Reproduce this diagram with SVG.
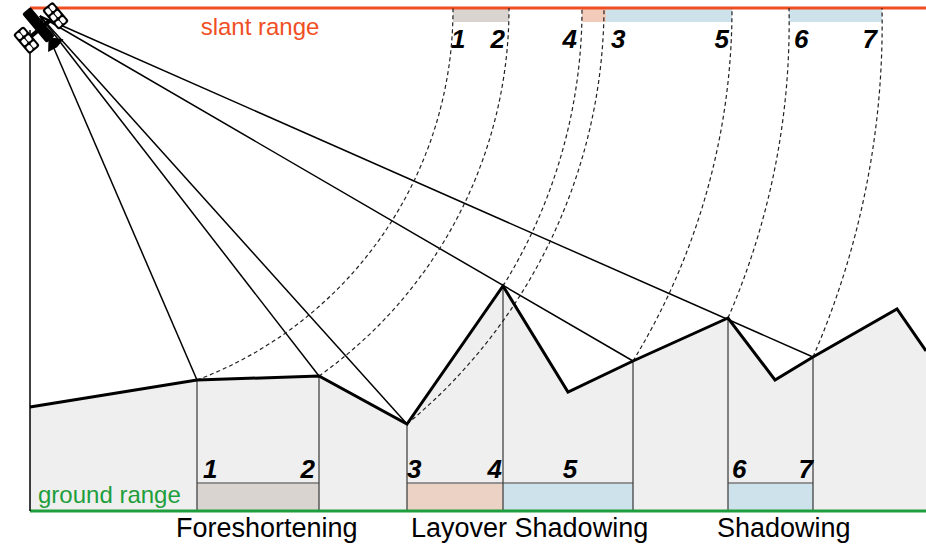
<svg xmlns="http://www.w3.org/2000/svg" width="926" height="546" viewBox="0 0 926 546">
  <style>
    .terrain { fill: none; stroke: #000; stroke-width: 3; stroke-linejoin: miter; }
    .ray { fill: none; stroke: #000; stroke-width: 1.5; }
    .arc { fill: none; stroke: #222; stroke-width: 1.2; stroke-dasharray: 4 3; }
    .drop { stroke: #444; stroke-width: 1.3; }
    .num { font-family: "Liberation Sans", Arial, sans-serif; font-size: 26px; font-weight: bold; font-style: italic; fill: #000; }
    .label { font-family: "Liberation Sans", Arial, sans-serif; font-size: 27px; fill: #000; }
    .gray { fill: #d9d4d0; }
    .salmon { fill: #ecd2c4; }
    .blue { fill: #cde2ea; }
  </style>

  <rect width="926" height="546" fill="#fff"/>

  <!-- ground body -->
  <polygon id="ground" points="30,407 197,380 319,376 407,424 503,286 568,392 633,361 728,318 775,380 813,357 897,309 926,351 926,511 30,511" fill="#efefef"/>

  <!-- ground-range bars -->
  <g id="ground-bars">
    <rect class="gray" x="197" y="483" width="122" height="28"/>
    <rect class="salmon" x="407" y="483" width="96" height="28"/>
    <rect class="blue" x="503" y="483" width="130" height="28"/>
    <rect class="blue" x="728" y="483" width="85" height="28"/>
    <g stroke="#777" stroke-width="1.5">
      <line x1="197" y1="483" x2="319" y2="483"/>
      <line x1="407" y1="483" x2="633" y2="483"/>
      <line x1="728" y1="483" x2="813" y2="483"/>
    </g>
  </g>

  <!-- slant-range bars -->
  <g id="slant-bars">
    <rect class="gray" x="453" y="8" width="56" height="14"/>
    <rect fill="#f2cbbb" x="582" y="8" width="24" height="14"/>
    <rect class="blue" x="606" y="8" width="126" height="14"/>
    <rect class="blue" x="789" y="8" width="93" height="14"/>
  </g>

  <!-- verticals from terrain points down to ground range -->
  <g id="drops">
    <line class="drop" x1="197" y1="380" x2="197" y2="511"/>
    <line class="drop" x1="319" y1="376" x2="319" y2="511"/>
    <line class="drop" x1="407" y1="424" x2="407" y2="511"/>
    <line class="drop" x1="503" y1="286" x2="503" y2="511"/>
    <line class="drop" x1="633" y1="361" x2="633" y2="511"/>
    <line class="drop" x1="728" y1="318" x2="728" y2="511"/>
    <line class="drop" x1="813" y1="357" x2="813" y2="511"/>
  </g>

  <!-- range axes -->
  <line id="slant-axis" x1="30" y1="8" x2="926" y2="8" stroke="#f04e23" stroke-width="3"/>
  <line id="ground-axis" x1="30" y1="511" x2="926" y2="511" stroke="#1e9e3c" stroke-width="3"/>

  <!-- connectors: radar rays and equal-range arcs -->
  <g id="connectors">
    <line class="ray" x1="30" y1="30" x2="30" y2="511"/>
    <line class="ray" x1="40" y1="16" x2="197" y2="380"/>
    <line class="ray" x1="40" y1="16" x2="319" y2="376"/>
    <line class="ray" x1="40" y1="16" x2="407" y2="424"/>
    <line class="ray" x1="40" y1="16" x2="633" y2="361"/>
    <line class="ray" x1="40" y1="16" x2="813" y2="357"/>

    <path class="arc" d="M197,380 A396,396 0 0 0 453,8"/>
    <path class="arc" d="M319,376 A451,451 0 0 0 509,8"/>
    <path class="arc" d="M407,424 A543,543 0 0 0 604,8"/>
    <path class="arc" d="M503,286 A526,526 0 0 0 582,8"/>
    <path class="arc" d="M633,361 A676,676 0 0 0 732,8"/>
    <path class="arc" d="M728,318 A740,740 0 0 0 789,8"/>
    <path class="arc" d="M813,357 A834,834 0 0 0 882,8"/>
  </g>

  <!-- terrain profile -->
  <polyline id="terrain" class="terrain" points="30,407 197,380 319,376 407,424 503,286 568,392 633,361 728,318 775,380 813,357 897,309 926,351"/>

  <!-- satellite -->
  <g id="satellite" transform="translate(41,28) rotate(50)">
    <rect x="-23" y="-5.5" width="38" height="11" rx="2" fill="#000"/>
    <path d="M14,-2 L23,-10 L25,0 L23,10 L14,2 Z" fill="#000"/>
    <rect x="-2" y="-13" width="4" height="26" fill="#000"/>
    <g fill="#000">
      <rect x="-13" y="-26" width="26" height="14" rx="2.5"/>
      <rect x="-13" y="12" width="26" height="14" rx="2.5"/>
    </g>
    <g fill="#fff">
      <rect x="-11" y="-24" width="6" height="4.5" rx="1.5"/>
      <rect x="-3" y="-24" width="6" height="4.5" rx="1.5"/>
      <rect x="5" y="-24" width="6" height="4.5" rx="1.5"/>
      <rect x="-11" y="-18.5" width="6" height="4.5" rx="1.5"/>
      <rect x="-3" y="-18.5" width="6" height="4.5" rx="1.5"/>
      <rect x="5" y="-18.5" width="6" height="4.5" rx="1.5"/>
      <rect x="-11" y="14" width="6" height="4.5" rx="1.5"/>
      <rect x="-3" y="14" width="6" height="4.5" rx="1.5"/>
      <rect x="5" y="14" width="6" height="4.5" rx="1.5"/>
      <rect x="-11" y="19.5" width="6" height="4.5" rx="1.5"/>
      <rect x="-3" y="19.5" width="6" height="4.5" rx="1.5"/>
      <rect x="5" y="19.5" width="6" height="4.5" rx="1.5"/>
    </g>
  </g>

  <!-- axis labels -->
  <text x="260" y="35" text-anchor="middle" fill="#f04e23" font-family="Liberation Sans, Arial, sans-serif" font-size="24">slant range</text>
  <text x="38" y="503" fill="#1e9e3c" font-family="Liberation Sans, Arial, sans-serif" font-size="24">ground range</text>

  <!-- slant-range point numbers -->
  <g id="slant-numbers">
    <text class="num" x="451" y="48">1</text>
    <text class="num" x="505" y="48" text-anchor="end">2</text>
    <text class="num" x="577" y="48" text-anchor="end">4</text>
    <text class="num" x="611" y="48">3</text>
    <text class="num" x="729" y="48" text-anchor="end">5</text>
    <text class="num" x="794" y="48">6</text>
    <text class="num" x="877" y="48" text-anchor="end">7</text>
  </g>

  <!-- ground-range point numbers -->
  <g id="ground-numbers">
    <text class="num" x="203" y="478">1</text>
    <text class="num" x="315" y="478" text-anchor="end">2</text>
    <text class="num" x="407" y="478">3</text>
    <text class="num" x="502" y="478" text-anchor="end">4</text>
    <text class="num" x="570" y="478" text-anchor="middle">5</text>
    <text class="num" x="732" y="478">6</text>
    <text class="num" x="813" y="478" text-anchor="end">7</text>
  </g>

  <!-- effect names -->
  <text class="label" x="176" y="537">Foreshortening</text>
  <text class="label" x="411" y="537">Layover Shadowing</text>
  <text class="label" x="717" y="537">Shadowing</text>
</svg>
